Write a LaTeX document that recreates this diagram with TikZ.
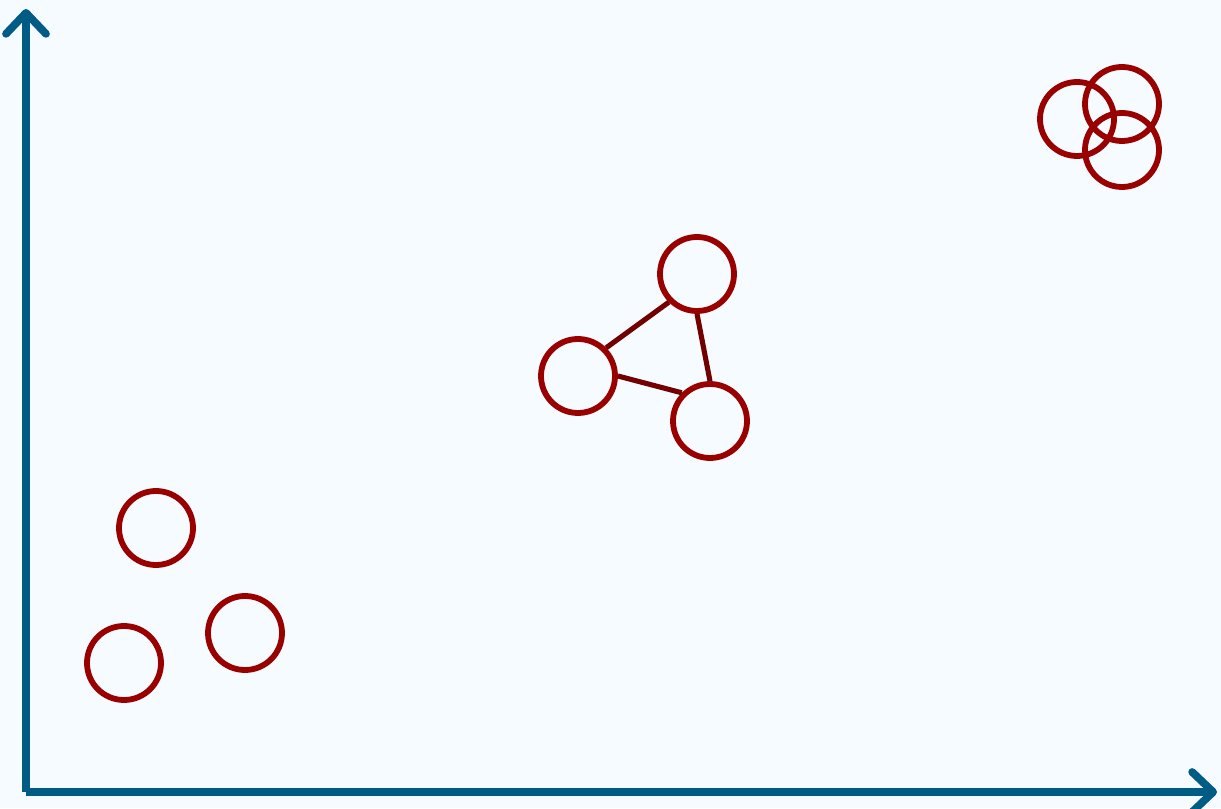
\documentclass[tikz,border=0pt]{standalone}
\usepackage{xcolor}
\usepackage{tikz}
\usetikzlibrary{arrows.meta}

\definecolor{bgblue}{RGB}{245,251,254}
\definecolor{axisblue}{RGB}{0,92,133}
\definecolor{ringred}{RGB}{153,0,0}
\definecolor{linkred}{RGB}{115,0,0}

\begin{document}
\begin{tikzpicture}[
  ring/.style={circle,draw=ringred,line width=1.65pt,inner sep=0pt,minimum size=0.74cm},
  link/.style={draw=linkred,line width=1.45pt},
  axis/.style={draw=axisblue,line width=2.2pt,-{Straight Barb[length=0.21cm,width=0.4cm,line cap=round,round]}}
]
% Background
\fill[bgblue] (0,0) rectangle (12.21,8.08);
\useasboundingbox (0,0) rectangle (12.21,8.08);

% Axes
\coordinate (origin) at (0.26,0.16);
\coordinate (ytop) at (0.26,7.99);
\coordinate (xend) at (12.17,0.16);
\draw[axis] (origin) -- (ytop);
\draw[axis] (origin) -- (xend);

% Loose cluster
\foreach \n/\x/\y in {a/1.56/2.80,b/2.45/1.75,c/1.24/1.45}
  \node[ring] (\n) at (\x,\y) {};

% Linked cluster
\foreach \n/\x/\y in {d/6.97/5.34,e/5.78/4.32,f/7.10/3.87}
  \node[ring] (\n) at (\x,\y) {};
\draw[link] (e.45) -- (d.225);
\draw[link] (d.south) -- (f.north);
\draw[link] (e.east) -- (f.135);

% Overlapping cluster
\foreach \n/\x/\y in {g/10.77/6.89,h/11.22/7.04,i/11.22/6.58}
  \node[ring] (\n) at (\x,\y) {};
\end{tikzpicture}
\end{document}
